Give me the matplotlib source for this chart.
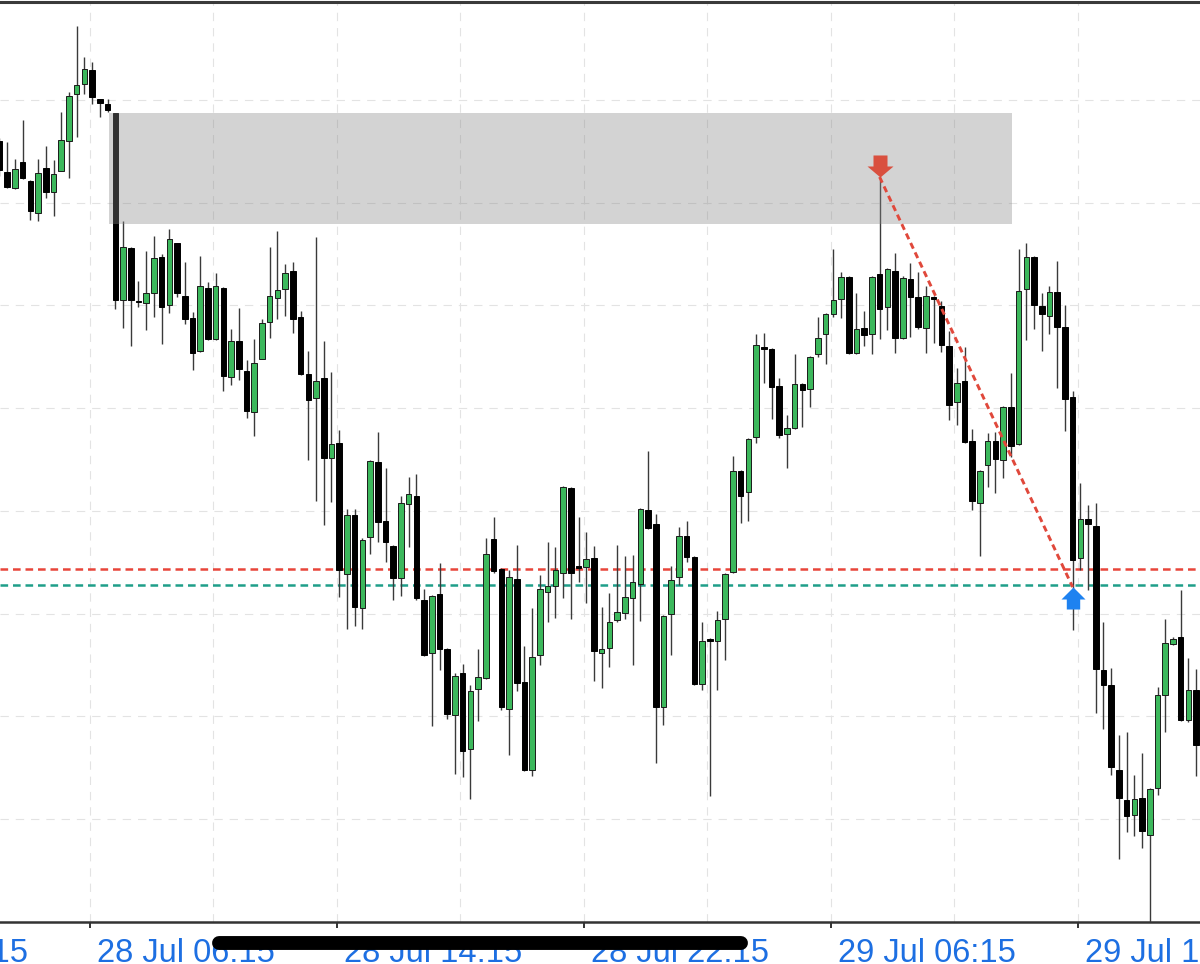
import matplotlib
matplotlib.use('Agg')
import matplotlib.pyplot as plt
import matplotlib.transforms as mtransforms
from matplotlib.path import Path
from matplotlib.lines import Line2D
from matplotlib.patches import Rectangle

plt.rcParams['font.family'] = ['Liberation Sans', 'DejaVu Sans']
plt.rcParams['lines.scale_dashes'] = False

# 15 min candles, first one = 28 Jul 03:15
opens = [859, 828, 812, 838, 819, 787, 832, 808, 829, 859,
         906, 916, 930, 901, 896, 887, 700, 752, 699, 697,
         707, 743, 695, 757, 704, 682, 649, 712, 661, 712,
         623, 659, 629, 588, 641, 678, 702, 711, 729, 683,
         626, 602, 622, 542, 557, 426, 485, 392, 463, 538,
         479, 454, 422, 496, 504, 400, 347, 406, 351, 285,
         327, 251, 311, 322, 461, 431, 291, 421, 318, 230,
         345, 408, 414, 427, 512, 434, 433, 442, 347, 352,
         380, 387, 402, 416, 490, 476, 293, 386, 423, 464,
         443, 316, 361, 359, 381, 428, 529, 508, 563, 653,
         651, 614, 566, 572, 616, 611, 646, 666, 686, 701,
         723, 647, 672, 666, 726, 693, 729, 662, 721, 703,
         672, 703, 694, 654, 598, 619, 559, 497, 535, 559,
         540, 593, 556, 711, 743, 694, 684, 708, 673, 603,
         442, 481, 474, 330, 315, 230, 200, 185, 202, 165,
         212, 305, 356, 363, 280, 310]
highs = [862, 858, 841, 880, 820, 841, 854, 840, 888, 908,
         974, 943, 938, 901, 901, 887, 779, 753, 719, 749,
         764, 746, 771, 757, 738, 688, 744, 718, 727, 713,
         671, 692, 640, 661, 681, 753, 769, 736, 738, 689,
         649, 763, 659, 628, 570, 491, 491, 462, 540, 568,
         532, 455, 504, 523, 526, 411, 405, 437, 352, 327,
         336, 315, 351, 462, 483, 432, 430, 455, 354, 392,
         425, 458, 453, 514, 513, 483, 468, 454, 393, 407,
         455, 444, 445, 492, 549, 486, 385, 434, 473, 479,
         444, 378, 362, 389, 427, 544, 530, 562, 666, 667,
         652, 622, 585, 646, 617, 644, 683, 687, 751, 728,
         724, 707, 689, 724, 820, 732, 747, 724, 737, 728,
         714, 704, 699, 669, 632, 653, 571, 530, 567, 568,
         594, 627, 751, 757, 744, 707, 714, 739, 695, 609,
         517, 495, 497, 378, 332, 265, 268, 225, 247, 212,
         313, 381, 363, 410, 342, 331]
lows = [824, 812, 811, 821, 780, 779, 802, 784, 829, 822,
        863, 906, 896, 883, 888, 691, 672, 654, 693, 670,
        683, 656, 687, 703, 676, 630, 648, 660, 660, 609,
        615, 620, 582, 564, 641, 662, 681, 684, 667, 625,
        540, 499, 475, 498, 403, 371, 374, 371, 446, 458,
        438, 400, 404, 453, 400, 344, 274, 330, 281, 226,
        223, 201, 279, 321, 427, 290, 245, 309, 229, 224,
        335, 378, 382, 402, 381, 418, 397, 319, 312, 333,
        378, 381, 335, 379, 471, 237, 275, 345, 415, 438,
        315, 310, 204, 310, 340, 427, 477, 479, 557, 617,
        581, 562, 532, 571, 573, 593, 643, 636, 683, 682,
        646, 646, 654, 646, 661, 670, 647, 661, 663, 671,
        647, 657, 648, 580, 575, 557, 490, 444, 513, 507,
        522, 543, 555, 660, 671, 649, 666, 612, 569, 370,
        430, 410, 287, 271, 225, 141, 168, 164, 152, 70,
        205, 268, 355, 279, 278, 224]
closes = [830, 813, 831, 822, 789, 827, 808, 826, 860, 904,
          915, 931, 903, 897, 890, 700, 753, 700, 698, 707,
          742, 693, 761, 707, 681, 647, 714, 661, 714, 624,
          659, 631, 589, 637, 677, 704, 710, 727, 681, 626,
          600, 619, 542, 556, 430, 485, 393, 460, 539, 478,
          458, 422, 497, 506, 402, 345, 404, 351, 286, 324,
          249, 309, 323, 446, 429, 293, 423, 317, 230, 343,
          411, 414, 430, 513, 427, 432, 441, 349, 351, 378,
          388, 403, 418, 491, 472, 293, 384, 420, 464, 443,
          316, 359, 359, 380, 426, 529, 504, 561, 655, 651,
          613, 565, 572, 616, 610, 643, 662, 686, 700, 723,
          647, 671, 665, 723, 691, 731, 662, 722, 703, 673,
          704, 701, 655, 595, 617, 558, 499, 529, 559, 541,
          593, 554, 709, 743, 695, 686, 708, 673, 601, 440,
          481, 476, 331, 315, 233, 202, 184, 201, 169, 211,
          305, 357, 361, 280, 310, 255]

tick_idx = [-20, 12, 44, 76, 108, 140]
tick_labels = ['27 Jul 22:15', '28 Jul 06:15', '28 Jul 14:15',
               '28 Jul 22:15', '29 Jul 06:15', '29 Jul 14:15']
grid_idx = [-4, 12, 28, 44, 60, 76, 92, 108, 124, 140, 156]
grid_prices = [181.1, 283.8, 386.5, 489.2, 591.9, 694.6, 797.3, 900.0]

level_red = 431
level_teal = 415
zone_top, zone_bottom = 887, 776
zone_from, zone_to = 15, 131
sell_idx, sell_price = 114, 823
buy_idx, buy_price = 139, 413

GREEN = '#3cb85c'
BLUE_TXT = '#1d6fe2'

fig = plt.figure(figsize=(12, 9.64), dpi=100)
ax = fig.add_axes([0, 42 / 964, 1, 920 / 964])

n = len(opens)
idx = list(range(n))
up = [c > o for o, c in zip(opens, closes)]
body_bottom = [min(o, c) for o, c in zip(opens, closes)]
body_height = [max(abs(c - o), 1.3) for o, c in zip(opens, closes)]
face = [GREEN if u else 'black' for u in up]
edge = ['#1a1a1a' if u else 'black' for u in up]

# wicks + bodies
ax.vlines(idx, lows, highs, color='#3a3a3a', lw=1.0, zorder=3)
ax.bar(idx, body_height, bottom=body_bottom, width=0.72, color=face,
       edgecolor=edge, linewidth=0.7, zorder=3.5)

# levels
ax.axhline(level_red, color='#e8453a', lw=1.8, dashes=(5.5, 3.5), zorder=2)
ax.axhline(level_teal, color='#1f9e89', lw=1.8, dashes=(5.5, 3.5), zorder=2)

# supply zone
ax.add_patch(Rectangle((zone_from - 0.8, zone_bottom), zone_to - zone_from + 1.0,
                       zone_top - zone_bottom, facecolor='#898989', alpha=0.37,
                       lw=0, zorder=4))

# trade path and arrows
ax.plot([sell_idx, buy_idx], [sell_price, buy_price], color='#e0483b', lw=2.1,
        dashes=(4.5, 3), zorder=5)
down_arrow = Path([(0, 0), (13, 11), (7, 11), (7, 22), (-7, 22), (-7, 11), (-13, 11), (0, 0)],
                  closed=True)
up_arrow = Path([(0, 0), (12, -12), (6.7, -12), (6.7, -22), (-6.7, -22), (-6.7, -12), (-12, -12), (0, 0)],
                closed=True)
ax.plot([sell_idx], [sell_price], marker=down_arrow, ms=31.7, color='#d9503f',
        mew=0, zorder=6)
ax.plot([buy_idx], [buy_price], marker=up_arrow, ms=31.7, color='#1e82f0',
        mew=0, zorder=6)

# grid (ticks first, set_ticks would widen the limits)
ax.set_xticks([i - 0.3 for i in grid_idx], minor=True)
ax.set_xticks([i - 0.3 for i in tick_idx[1:]])
ax.set_xticklabels([])
ax.set_yticks(grid_prices)
ax.set_yticklabels([])
ax.tick_params(axis='y', length=0)
ax.tick_params(axis='x', which='major', length=4.5, width=1.4, color='#333333', direction='out')
ax.tick_params(axis='x', which='minor', length=0)
ax.grid(True, which='both', color='#e3e3e3', lw=0.8, linestyle=(0, (6, 5)))
ax.set_axisbelow(True)

ax.set_xlim(0.065, 155.5)
ax.set_ylim(78, 998)

for side in ['left', 'right']:
    ax.spines[side].set_visible(False)
ax.spines['bottom'].set_color('#333333')
ax.spines['bottom'].set_linewidth(1.8)
ax.spines['top'].set_color('#3a3a3a')
ax.spines['top'].set_linewidth(2.2)

# time labels, left aligned right of the tick
trans = mtransforms.blended_transform_factory(ax.transData, ax.transAxes)
trans = trans + mtransforms.ScaledTranslation(0.07, -0.40, fig.dpi_scale_trans)
for i, lab in zip(tick_idx, tick_labels):
    ax.text(i - 0.3, 0, lab, transform=trans, ha='left', va='baseline',
            fontsize=23.5, color=BLUE_TXT, clip_on=False)

# phone scroll bar over the axis labels
fig.add_artist(Line2D([219 / 1200, 741 / 1200], [1 - 943 / 964, 1 - 943 / 964],
                      transform=fig.transFigure, lw=10, color='black',
                      solid_capstyle='round'))

fig.savefig('out.png', dpi=100)
